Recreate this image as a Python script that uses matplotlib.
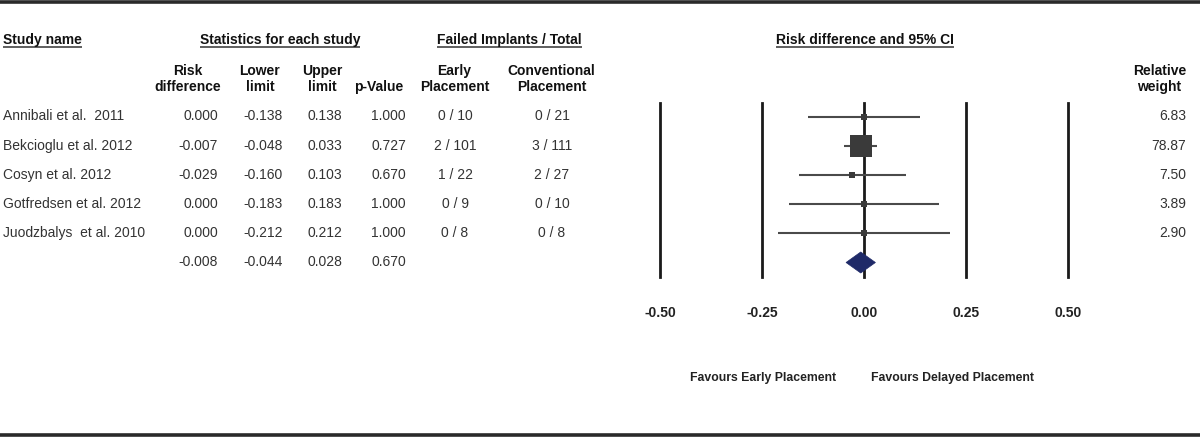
import matplotlib
matplotlib.use("Agg")
import matplotlib.pyplot as plt
from matplotlib.patches import Polygon
import numpy as np

plt.rcParams['font.family'] = ['Liberation Sans', 'DejaVu Sans']
plt.rcParams['axes.unicode_minus'] = False

# ---- data ----
studies = ["Annibali et al.  2011", "Bekcioglu et al. 2012", "Cosyn et al. 2012",
           "Gotfredsen et al. 2012", "Juodzbalys  et al. 2010"]
risk_diff = [0.000, -0.007, -0.029, 0.000, 0.000]
lower_limit = [-0.138, -0.048, -0.160, -0.183, -0.212]
upper_limit = [0.138, 0.033, 0.103, 0.183, 0.212]
p_values = [1.000, 0.727, 0.670, 1.000, 1.000]
early_failed = [0, 2, 1, 0, 0]
early_total = [10, 101, 22, 9, 8]
conv_failed = [0, 3, 2, 0, 0]
conv_total = [21, 111, 27, 10, 8]
rel_weight = [6.83, 78.87, 7.50, 3.89, 2.90]
pooled = {"rd": -0.008, "lo": -0.044, "hi": 0.028, "p": 0.670}
x_ticks = [-0.50, -0.25, 0.00, 0.25, 0.50]
x_tick_labels = ["-0.50", "-0.25", "0.00", "0.25", "0.50"]

# ---- layout (pixels) ----
W, H, DPI = 1200, 437, 100
ROW_Y0, ROW_STEP = 116.5, 29.2
PLOT_X0, PLOT_X1 = 660, 1068
PLOT_Y0, PLOT_Y1 = 103, 277

fig = plt.figure(figsize=(W / DPI, H / DPI), dpi=DPI)
fig.patch.set_facecolor("white")

tab = fig.add_axes([0, 0, 1, 1])
tab.set_xlim(0, W)
tab.set_ylim(H, 0)
tab.axis("off")


def row_y(i):
    return ROW_Y0 + ROW_STEP * i


# frame lines across top and bottom
tab.plot([0, W], [1.8, 1.8], color="#2a2a2a", lw=2.6, solid_capstyle="butt")
tab.plot([0, W], [434.6, 434.6], color="#2a2a2a", lw=2.6, solid_capstyle="butt")

HEAD = dict(fontsize=10, fontweight="bold", color="#111111")
VAL = dict(fontsize=10, color="#333333")

# group headers (underlined)
group_headers = [
    ("Study name", 3, "left"),
    ("Statistics for each study", 280, "center"),
    ("Failed Implants / Total", 509.5, "center"),
    ("Risk difference and 95% CI", 865, "center"),
]
group_texts = []
for label, x, ha in group_headers:
    group_texts.append(tab.text(x, 40, label, ha=ha, va="center", **HEAD))

# column headers
col_headers = [
    ("Risk\ndifference", 188, "center"),
    ("Lower\nlimit", 260, "center"),
    ("Upper\nlimit", 322, "center"),
    ("p-Value", 379, "center"),
    ("Early\nPlacement", 454.5, "center"),
    ("Conventional\nPlacement", 551.5, "center"),
    ("Relative\nweight", 1186, "right"),
]
for label, x, ha in col_headers:
    y = 79 if "\n" in label else 87
    tab.text(x, y, label, ha=ha, va="center", multialignment="center",
             linespacing=1.15, **HEAD)

# study rows
for i, name in enumerate(studies):
    y = row_y(i)
    tab.text(3, y, name, ha="left", va="center", **VAL)
    tab.text(218, y, f"{risk_diff[i]:.3f}", ha="right", va="center", **VAL)
    tab.text(283, y, f"{lower_limit[i]:.3f}", ha="right", va="center", **VAL)
    tab.text(342, y, f"{upper_limit[i]:.3f}", ha="right", va="center", **VAL)
    tab.text(406, y, f"{p_values[i]:.3f}", ha="right", va="center", **VAL)
    tab.text(455, y, f"{early_failed[i]} / {early_total[i]}", ha="center", va="center", **VAL)
    tab.text(552, y, f"{conv_failed[i]} / {conv_total[i]}", ha="center", va="center", **VAL)
    tab.text(1186, y, f"{rel_weight[i]:.2f}", ha="right", va="center", **VAL)

# pooled row
yp = row_y(len(studies))
tab.text(218, yp, f"{pooled['rd']:.3f}", ha="right", va="center", **VAL)
tab.text(283, yp, f"{pooled['lo']:.3f}", ha="right", va="center", **VAL)
tab.text(342, yp, f"{pooled['hi']:.3f}", ha="right", va="center", **VAL)
tab.text(406, yp, f"{pooled['p']:.3f}", ha="right", va="center", **VAL)

# favours labels
FAV = dict(fontsize=8.8, fontweight="bold", color="#222222")
tab.text(836, 378, "Favours Early Placement", ha="right", va="center", **FAV)
tab.text(871, 378, "Favours Delayed Placement", ha="left", va="center", **FAV)

# ---- forest plot ----
forest = fig.add_axes([PLOT_X0 / W, 1 - PLOT_Y1 / H,
                       (PLOT_X1 - PLOT_X0) / W, (PLOT_Y1 - PLOT_Y0) / H])
forest.patch.set_visible(False)
forest.set_xlim(x_ticks[0], x_ticks[-1])
forest.set_ylim((PLOT_Y1 - ROW_Y0) / ROW_STEP, (PLOT_Y0 - ROW_Y0) / ROW_STEP)
for s in forest.spines.values():
    s.set_visible(False)

for t in x_ticks:
    forest.axvline(t, color="#1a1a1a", lw=2.0, zorder=1, clip_on=False)

forest.set_xticks(x_ticks)
forest.set_xticklabels(x_tick_labels, fontsize=10, fontweight="bold", color="#222222")
forest.tick_params(axis="x", length=0, pad=21)
forest.set_yticks([])

max_w = max(rel_weight)
for i in range(len(studies)):
    forest.hlines(i, lower_limit[i], upper_limit[i], color="#4a4a4a", lw=1.5, zorder=2)
    ms = max(4.5, 15.5 * np.sqrt(rel_weight[i] / max_w))
    forest.plot(risk_diff[i], i, marker="s", ms=ms, color="#3a3a3a",
                markeredgewidth=0, zorder=3, clip_on=False)

n = len(studies)
half_h = 0.36
diamond = Polygon([[pooled["lo"], n], [pooled["rd"], n - half_h],
                   [pooled["hi"], n], [pooled["rd"], n + half_h]],
                  closed=True, facecolor="#1f2a68", edgecolor="#1f2a68",
                  lw=0.5, zorder=4)
forest.add_patch(diamond)

# underline the group headers
fig.canvas.draw()
renderer = fig.canvas.get_renderer()
inv = tab.transData.inverted()
for txt in group_texts:
    bb = txt.get_window_extent(renderer)
    (x0, y0), (x1, _) = inv.transform([[bb.x0, bb.y0], [bb.x1, bb.y1]])
    tab.plot([x0, x1], [y0 + 0.3, y0 + 0.3], color="#333333", lw=1.1,
             solid_capstyle="butt")

fig.savefig("out.png", dpi=DPI)
